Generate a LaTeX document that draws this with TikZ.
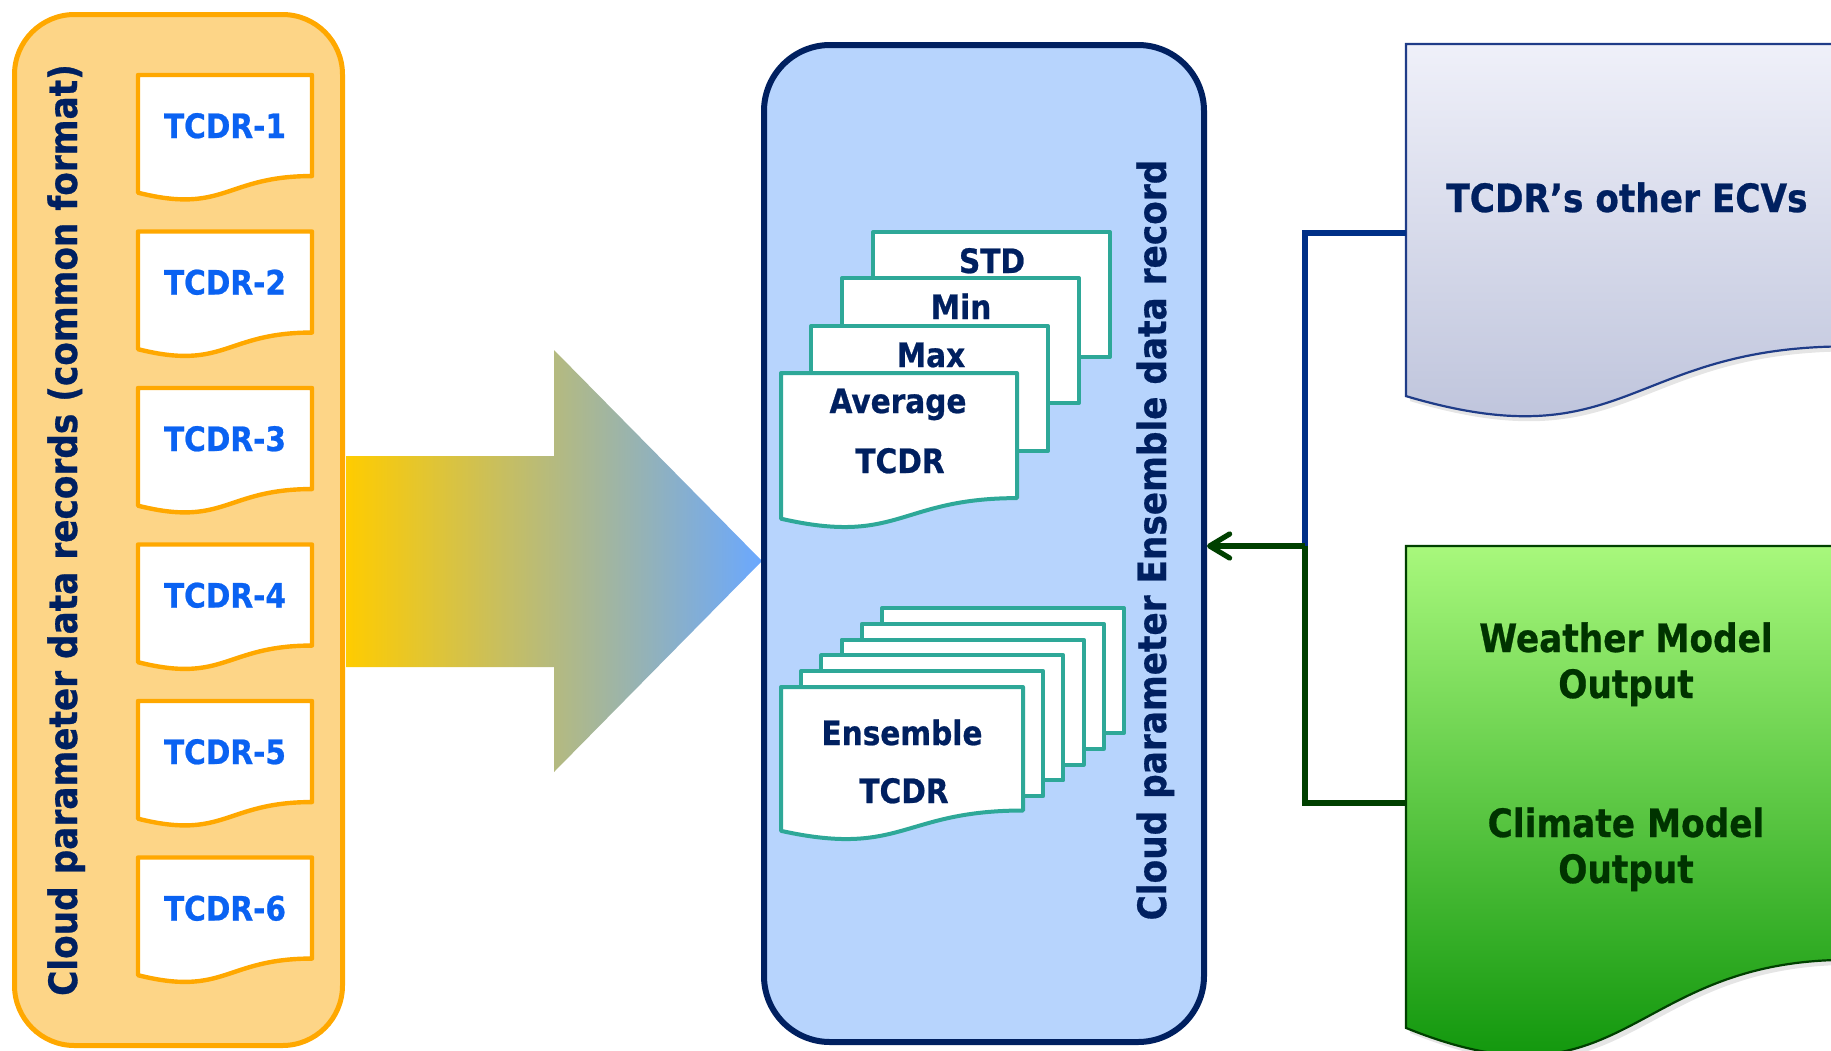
\documentclass[tikz,border=0pt]{standalone}
\usepackage{fontspec}
\setmainfont{DejaVu Sans}[FakeStretch=0.88, BoldFeatures={FakeBold=0.7}]
\usetikzlibrary{arrows.meta}
\definecolor{orgline}{HTML}{FFA800}
\definecolor{orgfill}{HTML}{FDD587}
\definecolor{tblue}{HTML}{0A62F2}
\definecolor{navy}{HTML}{002060}
\definecolor{midfill}{HTML}{B7D4FD}
\definecolor{tealc}{HTML}{2EA898}
\definecolor{ylw}{HTML}{FFCC00}
\definecolor{skyb}{HTML}{6AA8FF}
\definecolor{grytop}{HTML}{EFF0F9}
\definecolor{grybot}{HTML}{BAC0D9}
\definecolor{gryline}{HTML}{1F3C88}
\definecolor{grntop}{HTML}{A8F87C}
\definecolor{grnbot}{HTML}{008C00}
\definecolor{grnline}{HTML}{004000}
\definecolor{grntext}{HTML}{003300}
\definecolor{conblue}{HTML}{003087}
\definecolor{congreen}{HTML}{004000}
\newcommand{\docpath}[4]{(#1,#2) -- ({#1+#3},#2) -- ({#1+#3},{#2+0.802*#4}) .. controls ({#1+#3/2},{#2+0.802*#4}) and ({#1+#3/2},{#2+1.1075*#4}) .. (#1,{#2+0.934*#4}) -- cycle}
\tikzset{
  lbl/.style={font=\bfseries\fontsize{16.8}{20}\selectfont, inner sep=0pt, anchor=base},
  biglbl/.style={font=\bfseries\fontsize{19.5}{23}\selectfont, inner sep=0pt, anchor=base},
  tcdrdoc/.style={draw=orgline, fill=white, line width=2.2pt, line join=round},
  stackdoc/.style={draw=tealc, fill=white, line width=2pt, line join=round},
  blueline/.style={draw=conblue, line width=2.6pt},
  greenline/.style={draw=congreen, line width=2.6pt}
}
\begin{document}
\begin{tikzpicture}[x=0.5pt, y=-0.5pt]
\useasboundingbox (0,0) rectangle (1831,1050);
\clip (0,0) rectangle (1831,1050);

% left container
\node[draw=orgline, fill=orgfill, line width=2.5pt, rounded corners=30pt,
      minimum width=164pt, minimum height=515.5pt, inner sep=0pt] (leftbox) at (178.5,530) {};
\foreach \i in {1,...,6} {
  \pgfmathsetmacro\ty{75+156.5*(\i-1)}
  \path[tcdrdoc] \docpath{138}{\ty}{174}{126};
  \node[lbl, text=tblue] (tcdr\i) at (225,\ty+63) {TCDR-\i};
}
\node[biglbl, text=navy, rotate=90] (leftlbl) at (77,530) {Cloud parameter data records (common format)};

% big gradient arrow
\shade[left color=ylw, right color=skyb] (346,456) -- (554,456) -- (554,350) -- (762,561) -- (554,772) -- (554,667) -- (346,667) -- cycle;

% middle container
\node[draw=navy, fill=midfill, line width=3pt, rounded corners=33pt,
      minimum width=220pt, minimum height=498.5pt, inner sep=0pt] (midbox) at (984,543.5) {};

% statistics stack
\path[stackdoc] (873,232) rectangle ++(237,125);
\path[stackdoc] (842,278) rectangle ++(237,125);
\path[stackdoc] (811,326) rectangle ++(237,125);
\path[stackdoc] \docpath{781}{373}{236}{156};
\node[lbl, text=navy] (std) at (992,273) {STD};
\node[lbl, text=navy] (min) at (961,319) {Min};
\node[lbl, text=navy] (max) at (931,367) {Max};
\node[lbl, text=navy] (avg1) at (898,413) {Average};
\node[lbl, text=navy] (avg2) at (900,473) {TCDR};

% ensemble stack
\foreach \k in {5,4,3,2,1} {
  \path[stackdoc] ({781+20.2*\k},{687-15.8*\k}) rectangle ++(242,125);
}
\path[stackdoc] \docpath{781}{687}{242}{154};
\node[lbl, text=navy] (ens1) at (902,745) {Ensemble};
\node[lbl, text=navy] (ens2) at (904,803) {TCDR};

\node[biglbl, text=navy, rotate=90] (midlbl) at (1166,540) {Cloud parameter Ensemble data record};

% right documents
\fill[black, opacity=0.10] \docpath{1410}{49}{442}{377};
\path[top color=grytop, bottom color=grybot, draw=gryline, line width=1.1pt] \docpath{1406}{44}{442}{377};
\node[biglbl, text=navy] (ecv) at (1627,212) {TCDR’s other ECVs};

\fill[black, opacity=0.10] \docpath{1410}{551}{442}{516};
\path[top color=grntop, bottom color=grnbot, draw=grnline, line width=1.1pt] \docpath{1406}{546}{442}{516};
\node[biglbl, text=grntext] (wm1) at (1626,652) {Weather Model};
\node[biglbl, text=grntext] (wm2) at (1626,698) {Output};
\node[biglbl, text=grntext] (cm1) at (1626,837) {Climate Model};
\node[biglbl, text=grntext] (cm2) at (1626,883) {Output};

% connectors
\coordinate (grayW) at (1406,233);
\coordinate (greenW) at (1406,803);
\coordinate (junc) at (1305,546);
\draw[blueline] (grayW) -| (junc);
\draw[greenline] (greenW) -| (junc);
\draw[greenline, -{Straight Barb[length=10pt,width=12pt,round]}] (junc) -- (junc -| midbox.east);
\end{tikzpicture}
\end{document}
